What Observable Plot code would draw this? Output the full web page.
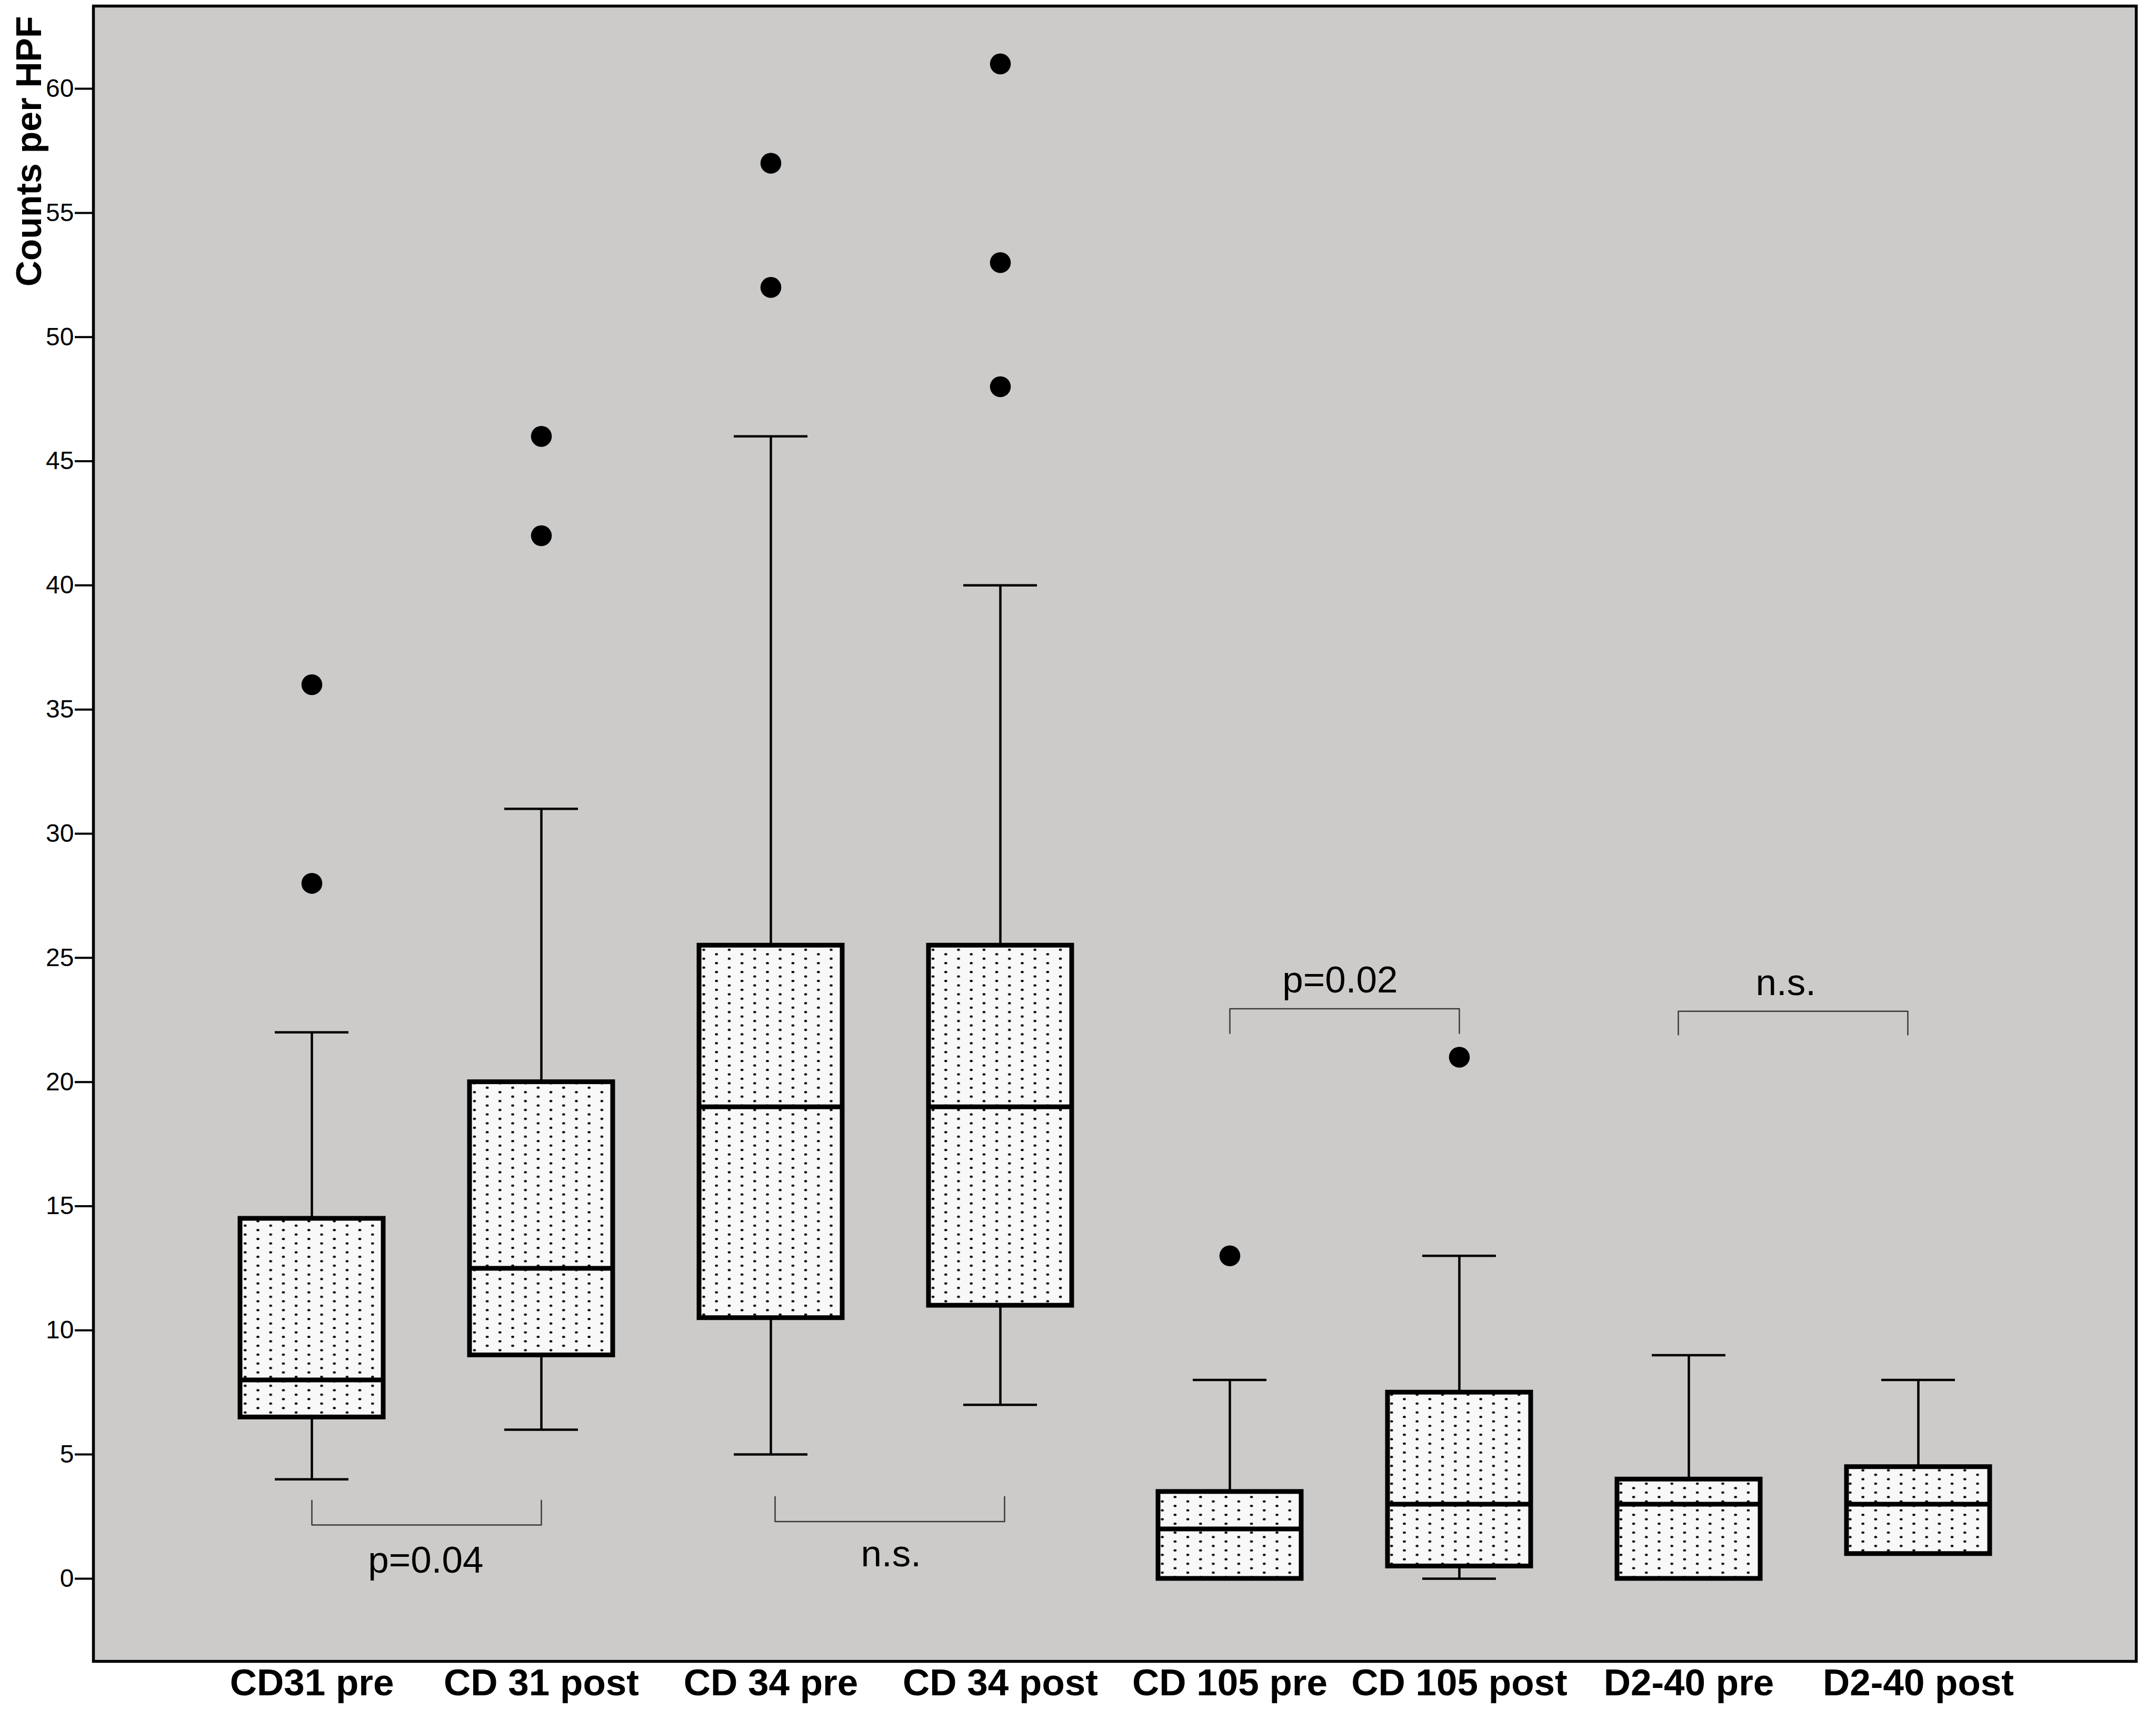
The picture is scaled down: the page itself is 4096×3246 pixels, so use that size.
<!DOCTYPE html>
<html><head><meta charset="utf-8">
<script src="https://cdn.jsdelivr.net/npm/d3@7"></script>
<script src="https://cdn.jsdelivr.net/npm/@observablehq/plot@0.6"></script>
<style>html,body{margin:0;padding:0;background:#fff;overflow:hidden}</style>
</head><body><div id="chart"></div>
<script>
// ---- data ----
const categories = ["CD31 pre", "CD 31 post", "CD 34 pre", "CD 34 post", "CD 105 pre", "CD 105 post", "D2-40 pre", "D2-40 post"];
const whiskerLow  = [4,    6,    5,    7,    0,   0,   0, 1];
const quartile1   = [6.5,  9,    10.5, 11,   0,   0.5, 0, 1];
const medians     = [8,    12.5, 19,   19,   2,   3,   3, 3];
const quartile3   = [14.5, 20,   25.5, 25.5, 3.5, 7.5, 4, 4.5];
const whiskerHigh = [22,   31,   46,   40,   8,   13,  9, 8];
const outliers    = [[28, 36], [42, 46], [52, 57], [48, 53, 61], [13], [21], [], []];
const yTicks = [0, 5, 10, 15, 20, 25, 30, 35, 40, 45, 50, 55, 60];

const bracketFrom  = ["CD31 pre", "CD 34 pre", "CD 105 pre", "D2-40 pre"];
const bracketTo    = ["CD 31 post", "CD 34 post", "CD 105 post", "D2-40 post"];
const bracketTip   = [3.15, 3.3, 21.96, 21.9];
const bracketBar   = [2.16, 2.3, 22.95, 22.85];
const bracketText  = ["p=0.04", "n.s.", "p=0.02", "n.s."];
const bracketTextY = [0.25, 0.5, 23.6, 23.5];

// ---- layout ----
const W = 4096, H = 3246;
const mL = 177, mR = W - 4058, mT = 11, mB = H - 3155;
const padOuter = 0.444;
const step = (W - mL - mR) / (categories.length + 2 * padOuter);
const boxInset = 82, capInset = 148;
const labelShift = [-2, 10, -9, -34];
const bracketShift = [0, 8, 0, -20];
const FONT = "'Liberation Sans', Arial, Helvetica, sans-serif";

const rows = categories.map((c, i) => ({
  cat: c, low: whiskerLow[i], q1: quartile1[i], med: medians[i], q3: quartile3[i], high: whiskerHigh[i]
}));
const outRows = categories.flatMap((c, i) => outliers[i].map(v => ({cat: c, v})));
const bracketMarks = bracketFrom.map((f, i) => Plot.line([
  {cat: f, y: bracketTip[i]},
  {cat: f, y: bracketBar[i]},
  {cat: bracketTo[i], y: bracketBar[i]},
  {cat: bracketTo[i], y: bracketTip[i]}
], {x: "cat", y: "y", dx: bracketShift[i], stroke: "#3a3a3a", strokeWidth: 2.5}));

const svg = Plot.plot({
  width: W, height: H,
  marginLeft: mL, marginRight: mR, marginTop: mT, marginBottom: mB,
  style: {fontFamily: FONT, background: "white", color: "black"},
  x: {type: "band", domain: categories, paddingInner: 0, paddingOuter: padOuter, axis: null},
  y: {domain: [-3.33, 63.33], axis: null},
  marks: [
    Plot.frame({fill: "#cccbc9", stroke: "none"}),
    Plot.ruleX(rows, {x: "cat", y1: "q3", y2: "high", stroke: "black", strokeWidth: 4.5}),
    Plot.ruleX(rows.filter(d => d.low < d.q1), {x: "cat", y1: "low", y2: "q1", stroke: "black", strokeWidth: 4.5}),
    Plot.tickY(rows, {x: "cat", y: "high", inset: capInset, stroke: "black", strokeWidth: 4.5}),
    Plot.tickY(rows, {x: "cat", y: "low", inset: capInset, stroke: "black", strokeWidth: 4.5}),
    Plot.barY(rows, {x: "cat", y1: "q1", y2: "q3", insetLeft: boxInset, insetRight: boxInset,
      fill: "url(#dots)", stroke: "black", strokeWidth: 9}),
    Plot.tickY(rows, {x: "cat", y: "med", insetLeft: boxInset, insetRight: boxInset, stroke: "black", strokeWidth: 9}),
    Plot.dot(outRows, {x: "cat", y: "v", r: 19.8, fill: "black", stroke: "none"}),
    ...bracketMarks,
    ...bracketText.map((t, i) => Plot.text([t], {
      x: [bracketFrom[i]], y: [bracketTextY[i]], text: d => d,
      dx: step / 2 + labelShift[i], lineAnchor: "bottom", textAnchor: "middle",
      fontSize: 71, fill: "black"
    })),
    Plot.axisY(yTicks, {tickSize: 35, tickPadding: 2, fontSize: 48, stroke: "black", strokeWidth: 4, fill: "black", label: null}),
    Plot.axisX({tickSize: 0, tickPadding: 14, fontSize: 71, fontWeight: "bold", fill: "black", label: null}),
    Plot.text(["Counts per HPF"], {frameAnchor: "top-left", rotate: -90, textAnchor: "end", lineAnchor: "bottom",
      dx: 77 - mL, dy: 30 - mT, fontSize: 68, fontWeight: "bold", fill: "black"}),
    Plot.frame({stroke: "black", strokeWidth: 5.5})
  ]
});

// dotted fill pattern for the boxes
const ns = "http://www.w3.org/2000/svg";
const defs = document.createElementNS(ns, "defs");
const pat = document.createElementNS(ns, "pattern");
pat.setAttribute("id", "dots");
pat.setAttribute("patternUnits", "userSpaceOnUse");
pat.setAttribute("width", "48.4");
pat.setAttribute("height", "16.9");
const bg = document.createElementNS(ns, "rect");
bg.setAttribute("width", "48.4"); bg.setAttribute("height", "16.9"); bg.setAttribute("fill", "#f8f8f8");
pat.appendChild(bg);
for (const [cx, cy] of [[6, 4.2], [30.2, 12.65]]) {
  const e = document.createElementNS(ns, "ellipse");
  e.setAttribute("cx", cx); e.setAttribute("cy", cy);
  e.setAttribute("rx", "2.8"); e.setAttribute("ry", "2.1"); e.setAttribute("fill", "#000");
  pat.appendChild(e);
}
defs.appendChild(pat);
svg.insertBefore(defs, svg.firstChild);
document.getElementById("chart").appendChild(svg);
</script>
</body></html>
